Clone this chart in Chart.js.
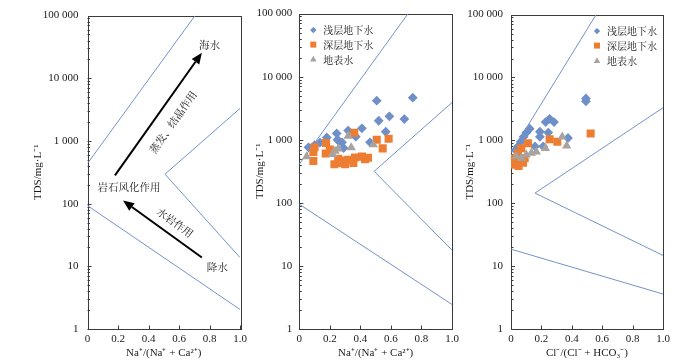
<!DOCTYPE html>
<html><head><meta charset="utf-8">
<script src="https://cdn.jsdelivr.net/npm/chart.js@4.4.0/dist/chart.umd.min.js"></script>
<style>
html,body{margin:0;padding:0;background:#fff;}
#wrap{position:relative;width:700px;height:362px;background:#fff;}
canvas{position:absolute;left:0;top:0;}
</style></head><body>
<div id="wrap">
<canvas id="c1" width="700" height="362"></canvas>
<canvas id="c2" width="700" height="362"></canvas>
<canvas id="c3" width="700" height="362"></canvas>
</div>
<script>
// ---------- data ----------
const xTicks = [0, 0.2, 0.4, 0.6, 0.8, 1.0];
const xTickLabels = ['0', '0.2', '0.4', '0.6', '0.8', '1.0'];
const yTicks = [1, 10, 100, 1000, 10000, 100000];
const yTickLabels = ['1', '10', '100', '1 000', '10 000', '100 000'];
const seriesNames = ['浅层地下水', '深层地下水', '地表水'];
const xTitleNa = 'Na⁺/(Na⁺ + Ca²⁺)';
const xTitleCl = 'Cl⁻/(Cl⁻ + HCO₃⁻)';
const yTitle = 'TDS/mg·L⁻¹';

// boundary lines [x, TDS]
const p1Upper = [[0, 437], [0.705, 100000]];
const p1Right = [[1, 3300], [0.508, 295], [1, 13.8]];
const p1Lower = [[0, 93], [1, 2.05]];
const p2Upper = [[0, 410], [0.712, 100000]];
const p2Right = [[1, 3900], [0.49, 316], [1, 17.8]];
const p2Lower = [[0, 95], [1, 2.45]];
const p3Upper = [[0, 630], [0.56, 100000]];
const p3Right = [[1, 3300], [0.158, 145], [1, 14.8]];
const p3Lower = [[0, 18.6], [1, 3.6]];

// samples: Na+/(Na+ + Ca2+) vs TDS
const naShallow = [[0.507,4170],[0.743,4650],[0.52,2000],[0.59,2350],[0.688,2130],[0.41,1520],[0.566,1340],[0.32,1400],[0.245,1260],[0.37,1120],[0.18,1090],[0.25,1000],[0.463,910],[0.135,900],[0.10,820],[0.28,910],[0.29,740],[0.26,950],[0.06,760]];
const naDeep = [[0.36,1290],[0.507,1000],[0.585,1040],[0.546,730],[0.175,890],[0.10,760],[0.092,640],[0.092,460],[0.173,605],[0.23,410],[0.278,430],[0.255,500],[0.32,480],[0.365,525],[0.41,540],[0.43,490],[0.354,430],[0.30,410],[0.20,700],[0.28,470],[0.45,520]];
const naSurface = [[0.048,540],[0.32,1150],[0.34,750],[0.485,840],[0.234,660],[0.255,720],[0.219,590]];
// samples: Cl-/(Cl- + HCO3-) vs TDS
const clShallow = [[0.493,4650],[0.493,4170],[0.254,2200],[0.283,1950],[0.228,1950],[0.123,1530],[0.10,1320],[0.083,1140],[0.19,1370],[0.19,1140],[0.245,1330],[0.375,1090],[0.064,950],[0.046,800],[0.212,800],[0.158,800],[0.03,700]];
const clDeep = [[0.524,1290],[0.254,1040],[0.305,950],[0.112,900],[0.068,750],[0.046,630],[0.024,520],[0.024,410],[0.079,440],[0.09,520],[0.05,390],[0.035,470]];
const clSurface = [[0.337,1140],[0.366,820],[0.226,750],[0.166,660],[0.134,630],[0.10,590],[0.035,560],[0.068,520]];

// ---------- styles ----------
const SERIF = '"Liberation Serif", "Times New Roman", serif';
const CJK = '"Noto Serif CJK SC", "Noto Sans CJK SC", sans-serif';
const LINE = '#7393cb';
const COLORS = ['#6f8fc8', '#ed7d31', '#a8a39e'];
const TXT = '#1a1a1a';

const toPts = a => a.map(p => ({x: p[0], y: p[1]}));
function lineDs(arr) {
  return {data: toPts(arr), showLine: true, borderColor: LINE, borderWidth: 1, pointRadius: 0, fill: false, order: 5, tension: 0};
}
function ptsDs(arr, k) {
  const style = ['rectRot', 'rect', 'triangle'][k];
  const rad = [4.9, 5.7, 5.4][k];
  return {data: toPts(arr), showLine: false, pointStyle: style, pointRadius: rad,
    backgroundColor: COLORS[k], borderColor: COLORS[k], borderWidth: 0, order: 3 - k};
}

// frame + inner ticks
const framePlugin = {
  id: 'frame',
  beforeDatasetsDraw(chart) {
    const {ctx, chartArea: a, scales: {x, y}} = chart;
    ctx.save();
    ctx.strokeStyle = '#3a3a3a';
    ctx.lineWidth = 1;
    ctx.beginPath();
    xTicks.forEach(v => {
      const px = Math.round(x.getPixelForValue(v)) + 0.5;
      ctx.moveTo(px, a.bottom); ctx.lineTo(px, a.bottom - 3.5);
    });
    for (let k = 0; k < 5; k++) {
      for (let m = 1; m <= 9; m++) {
        const v = m * Math.pow(10, k);
        const py = Math.round(y.getPixelForValue(v)) + 0.5;
        ctx.moveTo(a.left, py); ctx.lineTo(a.left + (m === 1 ? 4 : 2.5), py);
      }
    }
    ctx.stroke();
    ctx.strokeRect(Math.round(a.left) + 0.5, Math.round(a.top) + 0.5, Math.round(a.right - a.left), Math.round(a.bottom - a.top));
    ctx.restore();
  }
};

function drawMarker(ctx, k, cx, cy) {
  ctx.fillStyle = COLORS[k];
  ctx.beginPath();
  if (k === 0) {
    const r = 3.2;
    ctx.moveTo(cx, cy - r); ctx.lineTo(cx + r, cy); ctx.lineTo(cx, cy + r); ctx.lineTo(cx - r, cy);
  } else if (k === 1) {
    const s = 3;
    ctx.rect(cx - s, cy - s, 2 * s, 2 * s);
  } else {
    const r = 3.8;
    ctx.moveTo(cx, cy - r); ctx.lineTo(cx + r * 0.866, cy + r * 0.5); ctx.lineTo(cx - r * 0.866, cy + r * 0.5);
  }
  ctx.closePath();
  ctx.fill();
}

const legendPlugin = {
  id: 'legendInside',
  afterDatasetsDraw(chart, args, opts) {
    if (!opts || !opts.show) return;
    const {ctx, chartArea: a} = chart;
    ctx.save();
    ctx.font = '10px ' + CJK;
    ctx.textBaseline = 'middle';
    ctx.textAlign = 'left';
    seriesNames.forEach((name, k) => {
      const cx = a.left + opts.dx;
      const cy = a.top + opts.rows[k];
      drawMarker(ctx, k, cx, cy);
      ctx.fillStyle = TXT;
      ctx.fillText(name, cx + 10, cy + 0.5);
    });
    ctx.restore();
  }
};

// annotations for panel 1 (positions in data coordinates)
const annoPlugin = {
  id: 'anno',
  afterDatasetsDraw(chart, args, opts) {
    if (!opts || !opts.show) return;
    const {ctx, scales: {x, y}} = chart;
    const P = (vx, vy) => [x.getPixelForValue(vx), y.getPixelForValue(vy)];
    ctx.save();
    ctx.fillStyle = '#000';
    ctx.strokeStyle = '#000';
    function arrow(s, e) {
      const [x0, y0] = P(s[0], s[1]);
      const [x1, y1] = P(e[0], e[1]);
      const ang = Math.atan2(y1 - y0, x1 - x0);
      const hl = 11, hw = 4.6;
      const bx = x1 - hl * Math.cos(ang), by = y1 - hl * Math.sin(ang);
      ctx.lineWidth = 2;
      ctx.beginPath(); ctx.moveTo(x0, y0); ctx.lineTo(bx, by); ctx.stroke();
      ctx.beginPath();
      ctx.moveTo(x1, y1);
      ctx.lineTo(bx + hw * Math.sin(ang), by - hw * Math.cos(ang));
      ctx.lineTo(bx - hw * Math.sin(ang), by + hw * Math.cos(ang));
      ctx.closePath(); ctx.fill();
      return ang;
    }
    const a1 = arrow([0.18, 282], [0.75, 25500]);
    const a2 = arrow([0.75, 13.8], [0.233, 112]);
    ctx.font = '10.5px ' + CJK;
    ctx.textAlign = 'center';
    ctx.textBaseline = 'middle';
    function text(t, v, rot) {
      const [px, py] = P(v[0], v[1]);
      ctx.save();
      ctx.translate(px, py);
      if (rot) ctx.rotate(rot);
      ctx.fillText(t, 0, 0);
      ctx.restore();
    }
    ctx.fillStyle = TXT;
    text('海水', [0.80, 34000]);
    text('岩石风化作用', [0.272, 186]);
    text('降水', [0.85, 9.6]);
    text('蒸发、结晶作用', [0.56, 2000], a1);
    text('水岩作用', [0.575, 50], a2 + Math.PI);
    ctx.restore();
  }
};

function makeChart(id, cfg) {
  const font = {family: SERIF, size: 11};
  return new Chart(document.getElementById(id), {
    type: 'scatter',
    data: {datasets: cfg.datasets},
    options: {
      responsive: false,
      animation: false,
      events: [],
      layout: {padding: {left: cfg.padL, right: cfg.padR, top: 9, bottom: 0}},
      plugins: {
        legend: {display: false},
        tooltip: {enabled: false},
        legendInside: cfg.legend || {show: false},
        anno: {show: !!cfg.anno}
      },
      scales: {
        x: {
          type: 'linear', min: 0, max: 1,
          afterBuildTicks: s => { s.ticks = xTicks.map(v => ({value: v})); },
          ticks: {callback: v => xTickLabels[xTicks.findIndex(t => Math.abs(t - v) < 1e-9)],
            font: font, color: TXT, padding: 4, maxRotation: 0, autoSkip: false},
          grid: {display: false, drawTicks: false, tickLength: 0},
          border: {display: false},
          title: {display: true, text: cfg.xTitle, font: font, color: TXT, padding: {top: 0, bottom: 2}},
          afterFit: s => { s.height = 33; }
        },
        y: {
          type: 'logarithmic', min: 1, max: 100000,
          afterBuildTicks: s => { s.ticks = yTicks.map(v => ({value: v})); },
          ticks: {callback: v => yTickLabels[yTicks.indexOf(v)], font: font, color: TXT, padding: cfg.yTickPad, autoSkip: false},
          grid: {display: false, drawTicks: false, tickLength: 0},
          border: {display: false},
          title: {display: true, text: yTitle, font: font, color: TXT, padding: {top: cfg.yTitlePad, bottom: 0}},
          afterFit: s => { s.width = cfg.yWidth; }
        }
      }
    },
    plugins: [framePlugin, legendPlugin, annoPlugin]
  });
}

makeChart('c1', {
  padL: 0, padR: 460, yWidth: 87.5, yTickPad: 9, yTitlePad: 31.5, xTitle: xTitleNa, anno: true,
  datasets: [lineDs(p1Upper), lineDs(p1Right), lineDs(p1Lower)]
});
makeChart('c2', {
  padL: 245.3, padR: 248, yWidth: 54, yTickPad: 7, yTitlePad: 8.5, xTitle: xTitleNa,
  legend: {show: true, dx: 14, rows: [16.5, 31, 46]},
  datasets: [lineDs(p2Upper), lineDs(p2Right), lineDs(p2Lower), ptsDs(naShallow, 0), ptsDs(naDeep, 1), ptsDs(naSurface, 2)]
});
makeChart('c3', {
  padL: 457, padR: 37, yWidth: 54, yTickPad: 8, yTitlePad: 7, xTitle: xTitleCl,
  legend: {show: true, dx: 86, rows: [16.5, 31, 46.5]},
  datasets: [lineDs(p3Upper), lineDs(p3Right), lineDs(p3Lower), ptsDs(clShallow, 0), ptsDs(clDeep, 1), ptsDs(clSurface, 2)]
});
</script>
</body></html>
